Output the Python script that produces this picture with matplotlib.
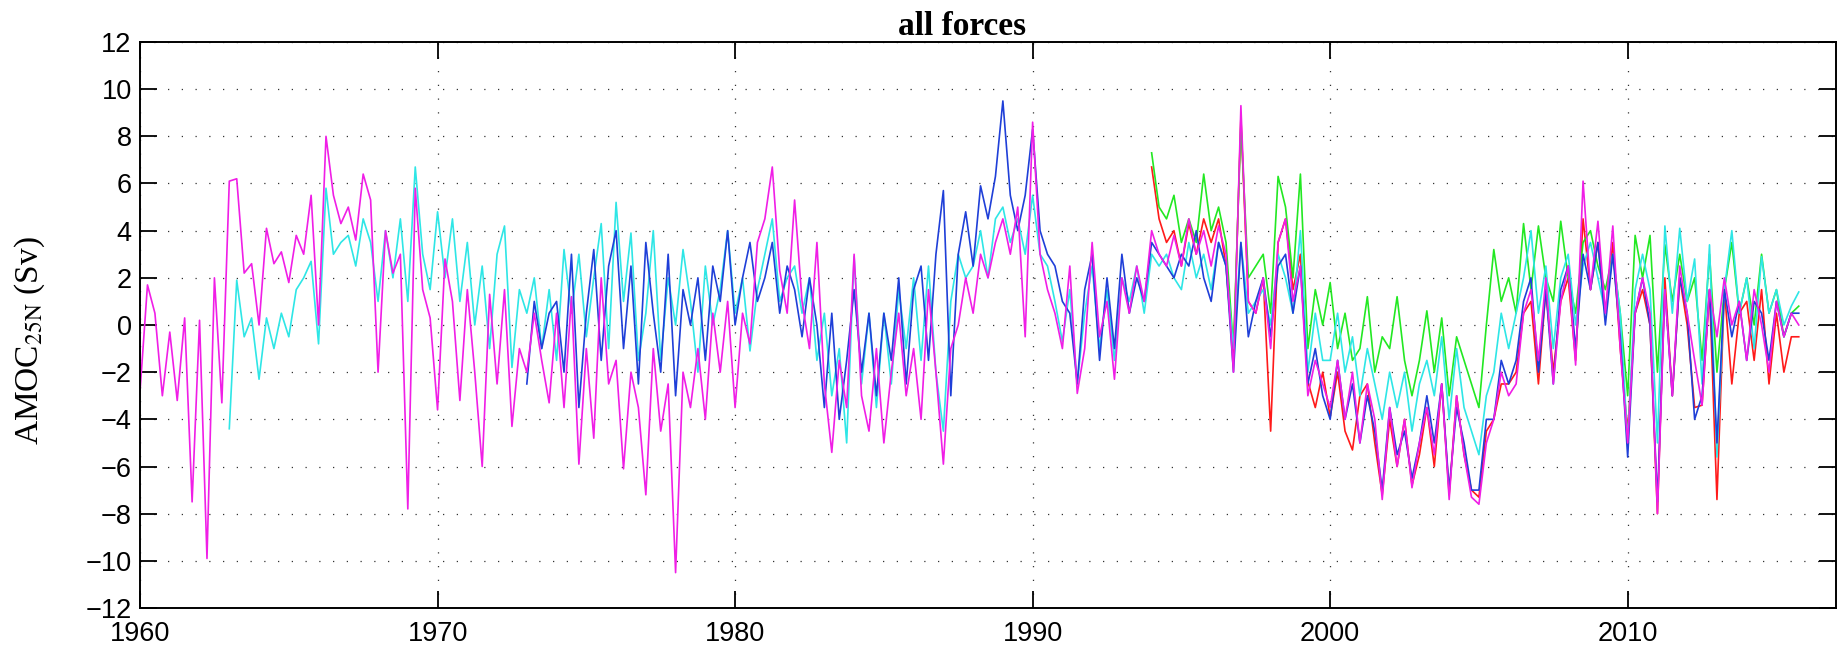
# AMOC at 25N, "all forces" runs - quarterly values

import numpy as np
import matplotlib.pyplot as plt

plt.rcParams['mathtext.fontset'] = 'stix'

# ---------------------------
# 1. DATA (Sv, 4 values per year)
# ---------------------------

magenta_start = 1960.0
magenta = [
    -2.8, 1.7, 0.5, -3.0,  -0.3, -3.2, 0.3, -7.5,  0.2, -9.9, 2.0, -3.3,      # 1960-62
    6.1, 6.2, 2.2, 2.6,  0.0, 4.1, 2.6, 3.1,  1.8, 3.8, 3.0, 5.5,            # 1963-65
    0.0, 8.0, 5.5, 4.3,  5.0, 3.6, 6.4, 5.3,  -2.0, 4.0, 2.2, 3.0,           # 1966-68
    -7.8, 5.8, 1.5, 0.3,  -3.6, 2.8, 1.0, -3.2,  1.5, -2.0, -6.0, 1.3,       # 1969-71
    -2.5, 1.5, -4.3, -1.0,  -2.0, 0.5, -1.5, -3.3,  0.5, -3.5, 1.2, -5.9,    # 1972-74
    -1.0, -4.8, 2.0, -2.5,  -1.5, -6.1, -2.0, -3.5,  -7.2, -1.0, -4.5, -2.5, # 1975-77
    -10.5, -2.0, -3.5, -1.0,  -4.0, 0.5, -2.0, 1.0,  -3.5, 0.5, -0.8, 3.5,   # 1978-80
    4.5, 6.7, 2.3, 0.5,  5.3, 1.0, -1.0, 3.5,  -2.5, -5.4, -1.5, -3.5,       # 1981-83
    3.0, -3.0, -4.5, -1.0,  -5.0, -2.0, 0.5, -3.0,  -1.0, -4.0, 1.5, -2.0,   # 1984-86
    -5.9, -1.0, 0.0, 2.0,  0.5, 3.0, 2.0, 3.5,  4.5, 3.0, 5.0, -0.5,         # 1987-89
    8.6, 3.0, 1.5, 0.5,  -1.0, 2.5, -2.9, -1.0,  3.5, -0.5, 1.0, -2.3,       # 1990-92
    2.0, 0.5, 2.5, 1.0,  4.0, 3.0, 2.5, 3.8,  2.5, 4.5, 3.0, 4.0,            # 1993-95
    2.5, 4.2, 3.0, -2.0,  9.3, 1.0, 0.5, 2.0,  -1.0, 3.5, 4.5, 1.0,          # 1996-98
    2.5, -3.0, -1.5, -2.5,  -3.5, -1.5, -4.0, -2.0,  -5.0, -2.5, -4.0, -7.4, # 1999-2001
    -3.5, -6.0, -4.0, -6.9,  -5.0, -3.5, -5.5, -2.5,  -7.4, -3.0, -5.5, -7.3,  # 2002-04
    -7.6, -5.0, -4.0, -2.0,  -3.0, -2.5, 0.5, 1.5,  -1.5, 2.0, -2.5, 1.0,    # 2005-07
    2.5, -1.7, 6.1, 1.5,  4.4, 0.5, 4.2, -1.0,  -5.0, 0.5, 2.0, 0.5,         # 2008-10
    -8.0, 1.5, -3.0, 2.5,  0.5, -1.5, -3.4, 1.5,  -0.5, 2.0, 0.0, 1.0,       # 2011-13
    -1.5, 1.5, 0.0, -2.0,  1.0, -0.5, 0.5, 0.0,                              # 2014-15
]

cyan_start = 1963.0
cyan = [
    -4.4, 1.9, -0.5, 0.3,  -2.3, 0.3, -1.0, 0.5,  -0.5, 1.5, 2.0, 2.7,       # 1963-65
    -0.8, 5.8, 3.0, 3.5,  3.8, 2.5, 4.5, 3.5,  1.0, 4.0, 2.0, 4.5,           # 1966-68
    1.0, 6.7, 3.0, 1.5,  4.8, 2.0, 4.5, 1.0,  3.5, 0.0, 2.5, -1.0,           # 1969-71
    3.0, 4.2, -1.8, 1.5,  0.5, 2.0, -1.0, 1.5,  -1.5, 3.2, 0.5, 3.0,         # 1972-74
    -0.5, 2.0, 4.3, -1.0,  5.2, 1.0, 3.9, -1.5,  0.5, 4.0, -1.5, 2.0,        # 1975-77
    0.0, 3.2, 1.0, -2.0,  2.5, 0.0, 1.5, 4.0,  0.5, 2.0, -1.1, 1.5,          # 1978-80
    3.0, 4.5, 1.0, 2.0,  2.5, 0.5, 2.0, -1.5,  0.5, -3.0, -1.0, -5.0,        # 1981-83
    2.9, -2.5, 0.5, -3.5,  0.5, -2.5, 1.5, -1.0,  2.0, -1.5, 2.5, -2.0,      # 1984-86
    -4.5, 1.0, 3.0, 2.0,  2.5, 4.0, 2.0, 4.5,  5.0, 3.5, 4.5, 3.0,           # 1987-89
    5.5, 3.0, 2.5, 1.0,  -0.7, 1.5, -2.5, 0.5,  2.5, -1.0, 1.5, -1.5,        # 1990-92
    2.0, 1.0, 2.5, 0.5,  3.0, 2.5, 3.0, 2.0,  1.5, 3.5, 2.0, 3.0,            # 1993-95
    1.5, 3.5, 2.5, -1.0,  3.5, 0.5, 1.0, 1.5,  0.0, 3.0, 2.0, 0.5,           # 1996-98
    4.0, -2.0, 0.5, -1.5,  -1.5, 0.5, -2.0, -0.5,  -3.0, -1.0, -2.5, -4.0,   # 1999-2001
    -2.0, -3.5, -2.0, -4.5,  -2.5, -1.5, -3.0, -0.5,  -4.0, -1.0, -3.5, -4.5,  # 2002-04
    -5.5, -3.0, -2.0, 0.5,  -1.0, 0.5, 2.0, 4.0,  0.5, 2.5, -1.0, 2.0,       # 2005-07
    3.0, 0.0, 2.5, 3.5,  2.0, 0.5, 3.0, 0.5,  -5.0, 1.5, 3.0, 1.5,           # 2008-10
    -5.0, 4.2, 0.5, 4.1,  1.0, 2.8, -2.5, 3.4,  -5.6, 1.5, 4.0, 0.5,         # 2011-13
    2.0, -1.0, 2.9, 0.5,  1.5, 0.0, 0.8, 1.4,                                # 2014-15
]

blue_start = 1973.0
blue = [
    -2.5, 1.0, -1.0, 0.5,  1.0, -2.0, 3.0, -3.5,  0.5, 3.2, -1.5, 2.5,       # 1973-75
    4.0, -1.0, 2.5, -2.5,  3.5, 0.5, -2.0, 3.0,  -3.0, 1.5, 0.0, 2.0,        # 1976-78
    -1.5, 2.5, 1.0, 4.0,  0.0, 2.0, 3.5, 1.0,  2.0, 3.5, 0.5, 2.5,           # 1979-81
    1.5, -0.5, 2.0, 0.0,  -3.5, 0.5, -4.0, -1.5,  1.5, -2.0, 0.5, -3.0,      # 1982-84
    0.5, -1.5, 2.0, -2.5,  1.5, 2.5, -1.5, 3.0,  5.7, -3.0, 3.0, 4.8,        # 1985-87
    2.5, 5.9, 4.5, 6.3,  9.5, 5.5, 4.0, 5.5,  8.3, 4.0, 3.0, 2.5,            # 1988-90
    1.0, 0.5, -2.5, 1.5,  3.0, -1.5, 2.0, -1.0,  3.0, 0.5, 2.0, 1.0,         # 1991-93
    3.5, 3.0, 2.5, 2.0,  3.0, 2.5, 4.0, 2.0,  1.0, 3.5, 2.5, -2.0,           # 1994-96
    3.5, -0.5, 1.0, 2.0,  -0.5, 2.5, 3.0, 0.5,  2.5, -2.5, -1.0, -3.0,       # 1997-99
    -4.0, -1.5, -4.0, -2.5,  -5.0, -3.0, -4.5, -7.0,  -3.5, -5.5, -4.5, -6.5,  # 2000-02
    -5.0, -3.0, -5.0, -2.5,  -7.0, -3.5, -5.0, -7.0,  -7.0, -4.0, -4.0, -1.5,  # 2003-05
    -2.5, -1.5, 1.0, 2.0,  -2.0, 1.5, -2.5, 1.5,  2.5, -1.0, 3.0, 1.5,       # 2006-08
    3.5, 0.0, 3.0, -0.5,  -5.6, 0.5, 2.0, 0.0,  -7.5, 1.5, -3.0, 2.0,        # 2009-11
    0.5, -4.0, -3.0, 1.5,  -5.0, 1.5, -0.5, 1.0,  -1.5, 1.0, 0.5, -1.5,      # 2012-14
    1.0, -0.5, 0.5, 0.5,                                                     # 2015
]

red_start = 1994.0
red = [
    6.7, 4.5, 3.5, 4.0,  2.5, 4.3, 3.0, 4.5,  3.5, 4.5, 2.5, -1.4,           # 1994-96
    8.8, 1.0, 0.5, 2.0,  -4.5, 3.5, 4.5, 1.5,  3.0, -2.4, -3.5, -2.0,        # 1997-99
    -3.9, -2.0, -4.5, -5.3,  -3.0, -2.5, -5.0, -7.2,  -4.0, -6.0, -4.0, -6.8,  # 2000-02
    -5.5, -3.5, -6.0, -2.5,  -7.2, -3.0, -5.5, -7.0,  -7.3, -4.5, -4.0, -2.5,  # 2003-05
    -2.5, -2.0, 0.5, 1.0,  -2.5, 1.5, -2.0, 1.0,  2.0, -1.5, 4.5, 1.5,       # 2006-08
    3.5, 0.5, 3.5, -1.0,  -4.5, 0.5, 1.5, 0.0,  -8.0, 2.0, -3.0, 2.0,        # 2009-11
    0.0, -3.5, -3.4, 1.5,  -7.4, 1.5, -2.5, 0.5,  1.0, -1.5, 1.5, -2.5,      # 2012-14
    0.5, -2.0, -0.5, -0.5,                                                   # 2015
]

green_start = 1994.0
green = [
    7.3, 5.0, 4.5, 5.5,  3.5, 4.5, 3.5, 6.4,  4.0, 5.0, 3.5, -1.0,           # 1994-96
    8.5, 2.0, 2.5, 3.0,  0.5, 6.3, 5.0, 2.0,  6.4, -1.0, 1.5, 0.0,           # 1997-99
    1.8, -1.0, 0.5, -1.5,  -1.0, 1.2, -2.0, -0.5,  -1.0, 1.2, -1.5, -3.0,    # 2000-02
    -1.5, 0.6, -2.0, 0.3,  -3.0, -0.5, -1.5, -2.5,  -3.5, 0.0, 3.2, 1.0,     # 2003-05
    2.0, 0.5, 4.3, 1.5,  4.2, 2.0, 1.0, 4.4,  2.0, 0.5, 3.5, 4.0,            # 2006-08
    2.5, 1.5, 3.0, 0.5,  -3.0, 3.8, 2.0, 3.8,  -2.0, 3.4, 1.0, 3.0,          # 2009-11
    1.0, 2.0, -1.5, 3.0,  -2.0, 1.5, 3.5, 0.5,  2.0, 0.0, 3.0, 0.5,          # 2012-14
    1.5, -0.5, 0.5, 0.8,                                                     # 2015
]

x_ticks = [1960, 1970, 1980, 1990, 2000, 2010]
y_ticks = list(range(-12, 13, 2))


def years(start, values):
    return start + np.arange(len(values)) * 0.25


# ---------------------------
# 2. PLOT
# ---------------------------

fig = plt.figure(figsize=(18.45, 6.53), dpi=100)
ax = fig.add_axes([0.0759, 0.0689, 0.9192, 0.8668])

lw = 1.2
ax.plot(years(red_start, red), red, color='#ff1a1a', lw=lw)
ax.plot(years(green_start, green), green, color='#22e822', lw=lw)
ax.plot(years(cyan_start, cyan), cyan, color='#2ee6e6', lw=lw)
ax.plot(years(blue_start, blue), blue, color='#1f3fd8', lw=lw)
ax.plot(years(magenta_start, magenta), magenta, color='#f01ee6', lw=lw)

ax.set_xlim(1960, 2017)
ax.set_ylim(-12, 12)
ax.set_xticks(x_ticks)
ax.set_yticks(y_ticks)

ax.grid(True, color='#333333', linestyle=(0, (1, 10)), linewidth=0.9)
ax.tick_params(direction='in', length=12, width=1.3, top=True, right=True,
               labelsize=19.5, colors='black')
ax.tick_params(axis='x', pad=9)
ax.tick_params(axis='y', pad=6)
for lab in ax.get_xticklabels() + ax.get_yticklabels():
    lab.set_family('Liberation Sans')
for sp in ax.spines.values():
    sp.set_linewidth(1.4)

ax.set_title('all forces', family='Liberation Serif', fontweight='bold',
             fontsize=24, x=0.485, pad=5)
fig.text(30 / 1845, 1 - 341 / 653, r'AMOC$_{\mathrm{25N}}$ (Sv)',
         family='Liberation Serif', fontsize=24, rotation=90,
         ha='center', va='center')

plt.savefig('out.png', dpi=100)
